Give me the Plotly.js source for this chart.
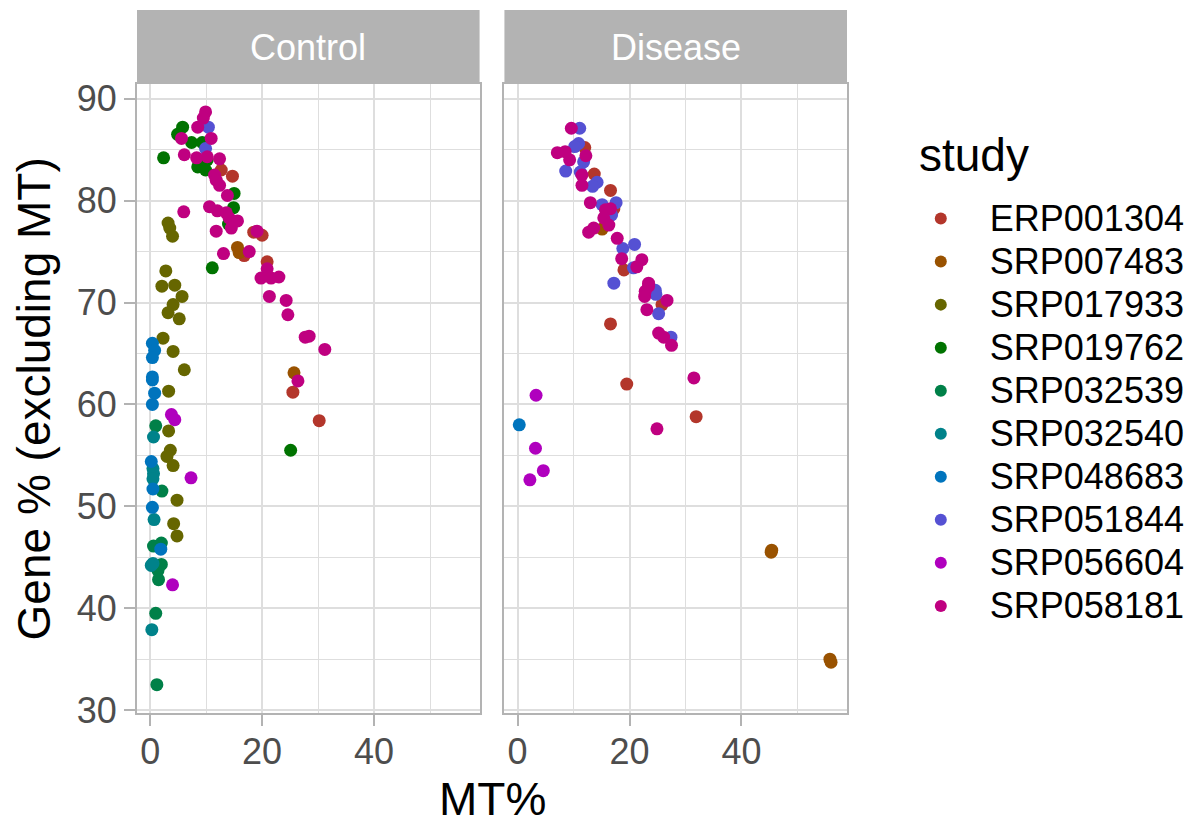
<!DOCTYPE html>
<html>
<head>
<meta charset="utf-8">
<script src="https://cdn.plot.ly/plotly-3.0.1.min.js"></script>
<style>html,body{margin:0;padding:0;background:#fff;}</style>
</head>
<body>
<div id="chart" style="width:1202px;height:825px;"></div>
<script>
// ---------- data ----------
const studies = ["ERP001304","SRP007483","SRP017933","SRP019762","SRP032539","SRP032540","SRP048683","SRP051844","SRP056604","SRP058181"];
const panels = ["Control","Disease"];

// Control panel
const ERP001304_ctrl_x = [12.7,14.7,18.5,20.0,16.8,20.9,25.5,30.2];
const ERP001304_ctrl_y = [83.0,82.4,76.9,76.6,74.6,74.0,61.2,58.4];
const SRP007483_ctrl_x = [15.6,15.9,25.7];
const SRP007483_ctrl_y = [75.4,74.9,63.1];
const SRP017933_ctrl_x = [3.2,3.5,4.0,2.8,2.1,4.4,5.7,4.1,3.2,5.2,2.3,4.1,6.1,3.3,3.3,3.6,3.0,4.1,4.8,4.2,4.8];
const SRP017933_ctrl_y = [77.8,77.3,76.5,73.1,71.6,71.7,70.6,69.8,69.0,68.4,66.5,65.2,63.4,61.3,57.4,55.5,54.9,54.0,50.6,48.3,47.1];
const SRP019762_ctrl_x = [5.8,4.9,7.4,9.3,2.4,10.2,8.5,9.9,15.0,14.9,14.0,11.1,25.1];
const SRP019762_ctrl_y = [87.2,86.5,85.7,85.7,84.2,84.0,83.3,83.0,80.7,79.3,77.7,73.4,55.5];
const SRP032539_ctrl_x = [1.0,2.1,0.6,2.0,2.0,1.4,1.5,1.0,1.2];
const SRP032539_ctrl_y = [57.9,51.5,46.1,46.4,44.3,43.7,42.8,39.5,32.5];
const SRP032540_ctrl_x = [0.6,0.5,0.6,0.5,0.7,0.5,0.2,0.3];
const SRP032540_ctrl_y = [56.8,53.7,53.2,52.7,48.7,44.4,44.2,37.9];
const SRP048683_ctrl_x = [0.4,0.8,0.4,0.4,0.4,0.8,0.4,0.2,0.5,0.4,1.9];
const SRP048683_ctrl_y = [66.0,65.3,64.6,62.7,62.4,61.1,60.0,54.4,51.7,49.9,45.8];
const SRP051844_ctrl_x = [10.4,9.9];
const SRP051844_ctrl_y = [87.2,85.1];
const SRP056604_ctrl_x = [3.8,4.4,7.3,4.0];
const SRP056604_ctrl_y = [59.0,58.5,52.8,42.3];
const SRP058181_ctrl_x = [9.9,9.5,8.5,5.6,10.9,6.1,8.3,10.2,12.4,11.5,11.8,12.4,13.8,10.6,12.0,13.6,14.1,15.6,14.5,11.8,6.0,19.1,17.7,13.1,20.9,19.8,21.6,23.0,21.3,24.3,24.6,27.7,28.4,31.2,26.4];
const SRP058181_ctrl_y = [88.7,88.1,87.2,86.1,86.1,84.5,84.2,84.3,84.1,82.5,82.0,81.5,80.5,79.4,79.0,78.8,78.3,78.0,77.3,77.0,78.9,77.0,75.0,74.8,73.3,72.4,72.4,72.5,70.6,70.2,68.8,66.6,66.7,65.4,62.3];

// Disease panel
const ERP001304_dis_x = [12.0,13.7,16.6,17.2,19.0,25.8,16.6,19.5,31.9];
const ERP001304_dis_y = [85.2,82.6,81.0,79.2,73.2,69.8,67.9,62.0,58.8];
const SRP007483_dis_x = [15.1,45.3,45.4,56.0,55.8];
const SRP007483_dis_y = [77.2,45.5,45.7,34.7,35.0];
const SRP017933_dis_x = [];
const SRP017933_dis_y = [];
const SRP019762_dis_x = [];
const SRP019762_dis_y = [];
const SRP032539_dis_x = [];
const SRP032539_dis_y = [];
const SRP032540_dis_x = [];
const SRP032540_dis_y = [];
const SRP048683_dis_x = [0.3];
const SRP048683_dis_y = [58.0];
const SRP051844_dis_x = [11.1,10.9,10.2,11.8,8.6,11.2,14.2,13.4,15.1,17.6,16.8,18.8,20.9,20.7,17.2,24.6,24.7,25.2,27.4];
const SRP051844_dis_y = [87.1,85.6,85.3,83.8,82.9,82.8,81.8,81.4,79.6,79.8,78.6,75.3,75.7,73.4,71.9,71.2,70.8,68.9,66.6];
const SRP056604_dis_x = [3.3,3.2,4.6,2.2];
const SRP056604_dis_y = [60.9,55.7,53.5,52.6];
const SRP058181_dis_x = [9.6,7.1,8.5,9.3,12.2,11.5,11.5,13.0,15.7,16.6,15.4,16.3,13.6,12.7,17.8,18.6,22.2,21.3,23.4,23.4,22.8,22.7,26.7,23.1,25.2,26.1,27.5,31.5,24.9];
const SRP058181_dis_y = [87.1,84.7,84.8,84.0,84.4,82.5,81.5,79.8,79.1,79.2,78.3,77.6,77.3,76.9,76.3,74.3,74.2,73.5,71.9,71.6,71.1,70.6,70.2,69.3,67.0,66.6,65.8,62.6,57.6];

const ctrlX = [ERP001304_ctrl_x,SRP007483_ctrl_x,SRP017933_ctrl_x,SRP019762_ctrl_x,SRP032539_ctrl_x,SRP032540_ctrl_x,SRP048683_ctrl_x,SRP051844_ctrl_x,SRP056604_ctrl_x,SRP058181_ctrl_x];
const ctrlY = [ERP001304_ctrl_y,SRP007483_ctrl_y,SRP017933_ctrl_y,SRP019762_ctrl_y,SRP032539_ctrl_y,SRP032540_ctrl_y,SRP048683_ctrl_y,SRP051844_ctrl_y,SRP056604_ctrl_y,SRP058181_ctrl_y];
const disX = [ERP001304_dis_x,SRP007483_dis_x,SRP017933_dis_x,SRP019762_dis_x,SRP032539_dis_x,SRP032540_dis_x,SRP048683_dis_x,SRP051844_dis_x,SRP056604_dis_x,SRP058181_dis_x];
const disY = [ERP001304_dis_y,SRP007483_dis_y,SRP017933_dis_y,SRP019762_dis_y,SRP032539_dis_y,SRP032540_dis_y,SRP048683_dis_y,SRP051844_dis_y,SRP056604_dis_y,SRP058181_dis_y];

const xTickVals = [0,20,40];
const yTickVals = [30,40,50,60,70,80,90];
const xTitle = "MT%";
const yTitle = "Gene % (excluding MT)";
const legendTitle = "study";

// ---------- styles ----------
const studyColors = ["#B3362B","#995200","#666600","#007300","#008048","#00828A","#0074BD","#5551D3","#B000BE","#BF0080"];
const FONT = "Liberation Sans, Arial, Helvetica, sans-serif";
const GRID = "#DEDEDE";
const BORDER = "#B3B3B3";
const LEGEND_TEXT_PX = 36;

const traces = [];
studies.forEach((s, i) => {
  traces.push({
    type: "scatter", mode: "markers",
    name: '<span style="font-size:' + LEGEND_TEXT_PX + 'px">' + s + '</span>',
    legendgroup: s,
    x: ctrlX[i], y: ctrlY[i], xaxis: "x", yaxis: "y",
    marker: {color: studyColors[i], size: 13, line: {width: 0}},
    showlegend: true, hoverinfo: "skip"
  });
  traces.push({
    type: "scatter", mode: "markers", name: s, legendgroup: s,
    x: disX[i], y: disY[i], xaxis: "x2", yaxis: "y2",
    marker: {color: studyColors[i], size: 13, line: {width: 0}},
    showlegend: false, hoverinfo: "skip"
  });
});

const xRange = [-2.35, 58.85];
const yRange = [29.72, 91.44];

function xAxis(domain, anchor) {
  return {
    domain: domain, anchor: anchor, range: xRange, autorange: false,
    tickmode: "array", tickvals: xTickVals, ticktext: xTickVals.map(String),
    showgrid: true, gridcolor: GRID, gridwidth: 2, zeroline: false,
    minor: {tick0: 0, dtick: 10, showgrid: true, gridcolor: GRID, gridwidth: 1, ticks: ""},
    showline: true, mirror: true, linecolor: BORDER, linewidth: 2,
    ticks: "outside", ticklen: 11, tickwidth: 2, tickcolor: BORDER,
    ticklabelstandoff: -5,
    tickfont: {family: FONT, size: 36, color: "#4D4D4D"},
    fixedrange: true
  };
}

const layout = {
  width: 1202, height: 825,
  margin: {l: 137, r: 352, t: 84, b: 112, pad: 0},
  paper_bgcolor: "#FFFFFF", plot_bgcolor: "#FFFFFF",
  font: {family: FONT, color: "#000000"},
  showlegend: true,
  legend: {
    x: 1.0631, y: 0.4777, xanchor: "left", yanchor: "middle",
    font: {family: FONT, size: 30.8, color: "#000000"},
    itemwidth: 88, itemsizing: "constant", tracegroupgap: 0, traceorder: "normal",
    bgcolor: "rgba(0,0,0,0)", borderwidth: 0
  },
  xaxis: xAxis([0, 0.4825], "y"),
  xaxis2: xAxis([0.5175, 1], "y2"),
  yaxis: {
    domain: [0, 1], anchor: "x", range: yRange, autorange: false,
    tickmode: "array", tickvals: yTickVals, ticktext: yTickVals.map(String),
    showgrid: true, gridcolor: GRID, gridwidth: 2, zeroline: false,
    minor: {tick0: 0, dtick: 5, showgrid: true, gridcolor: GRID, gridwidth: 1, ticks: ""},
    showline: true, mirror: true, linecolor: BORDER, linewidth: 2,
    ticks: "outside", ticklen: 11, tickwidth: 2, tickcolor: BORDER,
    tickfont: {family: FONT, size: 36, color: "#4D4D4D"},
    fixedrange: true
  },
  yaxis2: {
    domain: [0, 1], anchor: "x2", matches: "y", range: yRange, autorange: false,
    tickmode: "array", tickvals: yTickVals, showticklabels: false, ticks: "",
    showgrid: true, gridcolor: GRID, gridwidth: 2, zeroline: false,
    minor: {tick0: 0, dtick: 5, showgrid: true, gridcolor: GRID, gridwidth: 1, ticks: ""},
    showline: true, mirror: true, linecolor: BORDER, linewidth: 2,
    fixedrange: true
  },
  shapes: [
    {type: "rect", xref: "x domain", yref: "paper", x0: 0, x1: 1, y0: 1.002, y1: 1.1176, fillcolor: BORDER, line: {width: 0}, layer: "above"},
    {type: "rect", xref: "x2 domain", yref: "paper", x0: 0, x1: 1, y0: 1.002, y1: 1.1176, fillcolor: BORDER, line: {width: 0}, layer: "above"}
  ],
  annotations: [
    {text: panels[0], xref: "x domain", yref: "paper", x: 0.5, y: 1.0588, xanchor: "center", yanchor: "middle", showarrow: false, font: {family: FONT, size: 36, color: "#FFFFFF"}},
    {text: panels[1], xref: "x2 domain", yref: "paper", x: 0.5, y: 1.0588, xanchor: "center", yanchor: "middle", showarrow: false, font: {family: FONT, size: 36, color: "#FFFFFF"}},
    {text: xTitle, xref: "paper", yref: "paper", x: 0.5, y: -0.1367, xanchor: "center", yanchor: "middle", showarrow: false, font: {family: FONT, size: 46, color: "#000000"}},
    {text: yTitle, xref: "paper", yref: "paper", x: -0.1452, y: 0.5, xanchor: "center", yanchor: "middle", textangle: -90, showarrow: false, font: {family: FONT, size: 46, color: "#000000"}},
    {text: legendTitle, xref: "paper", yref: "paper", x: 1.099, y: 0.8878, xanchor: "left", yanchor: "middle", showarrow: false, font: {family: FONT, size: 46, color: "#000000"}}
  ]
};

Plotly.newPlot("chart", traces, layout, {displayModeBar: false, staticPlot: true});
</script>
</body>
</html>
